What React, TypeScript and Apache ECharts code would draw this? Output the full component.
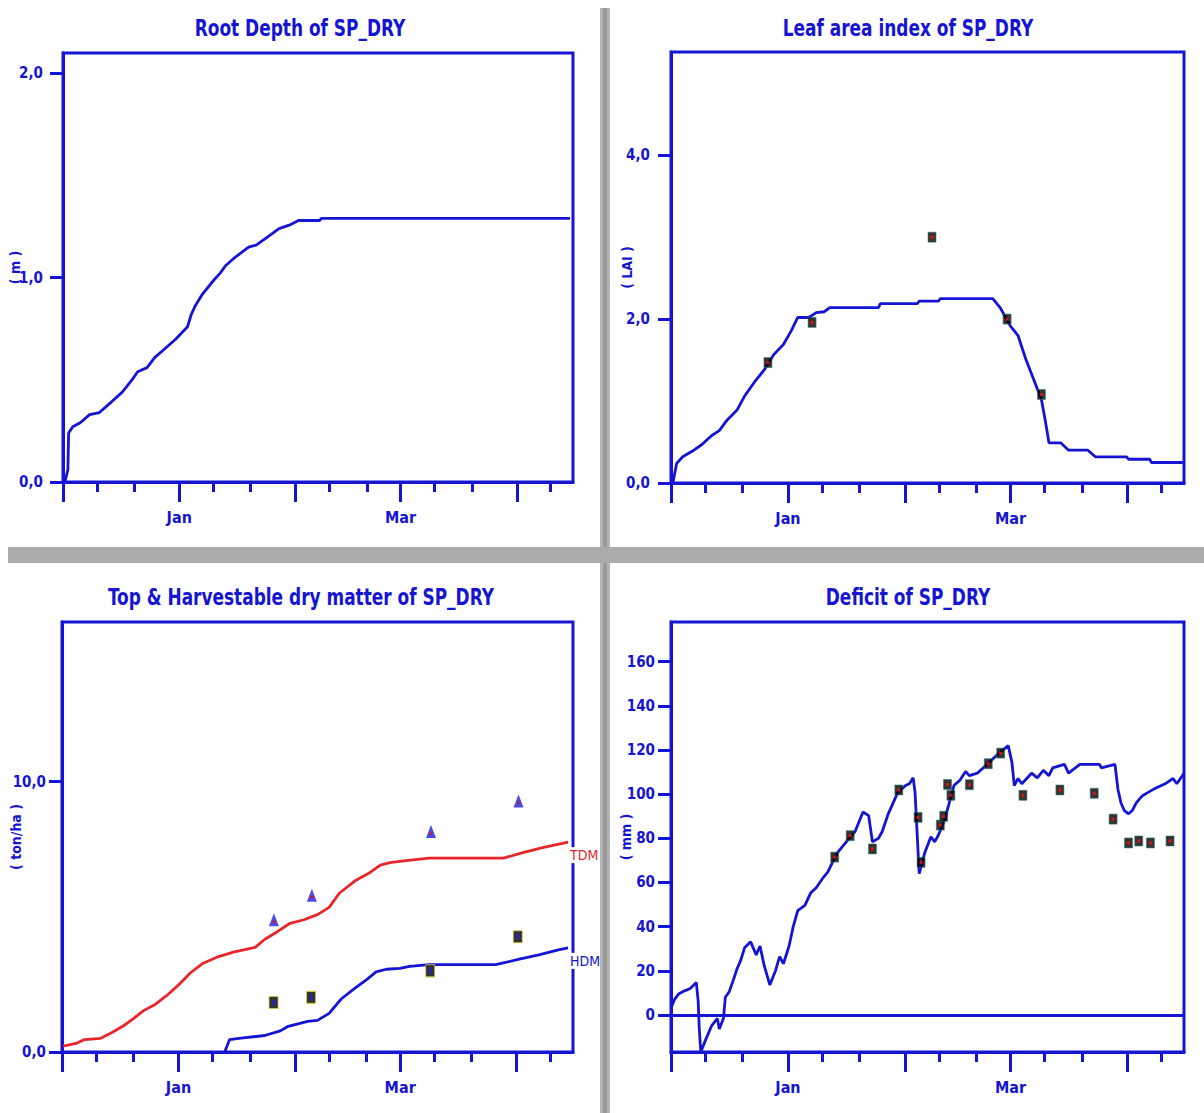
import React, { useEffect, useRef } from "react";
import * as echarts from "echarts";

// x values are days counted from 1 December
const monthTicks = [0, 31, 62, 90, 121];
const minorTicks = [9, 19, 40, 50, 71, 81, 99, 109, 130];
const monthLabelDays = [31, 90];
const monthLabelNames = ["Jan", "Mar"];

const rootDepthSim: number[][] = [
  [0.5, 0], [1.3, 0.06], [1.5, 0.24], [2.6, 0.27], [4.6, 0.29], [7.1, 0.33], [9.7, 0.34],
  [12.8, 0.39], [15.8, 0.44], [18.4, 0.5], [19.9, 0.54], [22.4, 0.56], [24.5, 0.61],
  [27, 0.65], [30.1, 0.7], [33.2, 0.76], [34.2, 0.82], [35.2, 0.86], [37.2, 0.92],
  [40.3, 0.99], [41.8, 1.02], [43.4, 1.06], [45.9, 1.1], [49.5, 1.15], [51.5, 1.16],
  [54.6, 1.2], [57.6, 1.24], [60.7, 1.26], [62.8, 1.28], [68.4, 1.28], [68.9, 1.29], [135.2, 1.29],
];

const laiSim: number[][] = [
  [0.5, 0], [1.5, 0.24], [3.1, 0.32], [5.7, 0.39], [8.2, 0.47], [10.8, 0.58], [12.8, 0.64],
  [14.9, 0.77], [17.5, 0.89], [19.5, 1.06], [22.1, 1.23], [24.7, 1.38], [27.3, 1.57],
  [29.8, 1.69], [31.9, 1.86], [33.6, 2.02], [36.5, 2.02], [38.5, 2.08], [40.6, 2.09],
  [42.1, 2.14], [55, 2.14], [55.5, 2.19], [65.3, 2.19], [65.8, 2.22], [70.9, 2.22],
  [71.4, 2.25], [85.3, 2.25], [87.4, 2.13], [89.9, 1.92], [92, 1.8], [94, 1.52],
  [96.1, 1.27], [98.2, 1.02], [99.2, 0.77], [100.2, 0.49], [103.3, 0.49], [105.4, 0.4],
  [110.5, 0.4], [112.5, 0.32], [120.8, 0.32], [121.3, 0.29], [126.9, 0.29], [127.4, 0.25], [135.7, 0.25],
];
const laiObs: number[][] = [[25.7, 1.47], [37.4, 1.96], [69.2, 3.0], [89.1, 2.0], [98.2, 1.08]];

const tdmSim: number[][] = [
  [0.3, 0.22], [4, 0.33], [6, 0.46], [10.2, 0.5], [13.3, 0.72], [16.5, 0.98], [19.1, 1.24],
  [21.7, 1.53], [24.8, 1.76], [27.9, 2.09], [31, 2.48], [34.2, 2.93], [37.3, 3.26],
  [41.5, 3.52], [45.6, 3.69], [51.4, 3.87], [54, 4.17], [57.1, 4.43], [60.7, 4.76],
  [64.4, 4.89], [68, 5.08], [71.1, 5.35], [73.8, 5.87], [77.9, 6.32], [82.1, 6.65],
  [84.7, 6.91], [87.3, 7.0], [91.5, 7.08], [97.7, 7.17], [117.5, 7.17], [122.7, 7.37],
  [127.9, 7.56], [134.7, 7.76],
];
const hdmSim: number[][] = [
  [43.3, 0], [44.6, 0.46], [48.2, 0.52], [54, 0.61], [58.1, 0.78], [60.2, 0.95], [65.4, 1.13],
  [68, 1.17], [71.1, 1.43], [74.3, 1.96], [77.9, 2.35], [81, 2.67], [83.6, 2.96],
  [86.3, 3.06], [89.9, 3.09], [92.5, 3.17], [97.7, 3.23], [115.4, 3.23], [121.7, 3.43],
  [126.9, 3.59], [132.1, 3.78], [134.7, 3.85],
];
const tdmObs: number[][] = [[56.4, 4.89], [66.5, 5.8], [98.2, 8.15], [121.5, 9.28]];
const hdmObs: number[][] = [[56.3, 1.83], [66.3, 2.02], [98, 3.0], [121.3, 4.26]];

const deficitSim: number[][] = [
  [0, 3.2], [1, 7.2], [2.1, 9.6], [3.6, 10.9], [5.1, 12], [6.7, 14.7], [7.2, 6.4], [7.5, -6.4],
  [7.9, -16.8], [9.2, -11.2], [10.8, -4.8], [12.3, -1.6], [12.8, -6.4], [13.9, -1.6],
  [14.4, 8], [15.4, 10.4], [16.4, 15.2], [17.5, 20.8], [18.5, 24.8], [19.5, 30.4],
  [21.1, 33.1], [22.6, 27.2], [23.6, 31.2], [24.7, 22.4], [26.2, 13.6], [27.7, 20],
  [28.8, 26.4], [29.8, 23.2], [31.3, 31.2], [32.4, 40], [33.6, 47.2], [35.5, 49.6],
  [37, 55.2], [38.5, 57.6], [40.1, 61.6], [41.6, 64.8], [42.7, 68.8], [44.2, 73.6],
  [46.8, 79.1], [48.8, 83.1], [50.9, 91.9], [52.4, 90.3], [53.4, 78.4], [55, 80],
  [56, 83.1], [57.6, 91.1], [60.1, 100.7], [62.2, 103.9], [63.2, 104.7], [64.2, 107.4],
  [64.7, 100.7], [65.8, 64], [67.3, 73.6], [68.9, 80.7], [69.9, 78.4], [70.9, 81.5],
  [72.5, 88], [74, 97.5], [75, 103.9], [76.6, 106.3], [78.1, 110.3], [79.1, 108.4],
  [81.2, 109.5], [83.8, 113.5], [86.8, 118.3], [89.4, 122], [90.4, 114.3], [91, 103.9],
  [92, 107.1], [93, 104.7], [95.6, 109.5], [97.1, 107.4], [98.7, 110.8], [100.2, 108.4],
  [101.2, 111.9], [104.3, 113.5], [105.4, 109.5], [108.4, 113.5], [113.6, 113.5],
  [114.1, 111.9], [117.7, 113.5], [118.5, 102], [119.3, 96], [120.2, 92.5], [121.3, 91.1],
  [122.3, 92.6], [123.3, 95.9], [124.9, 99.2], [126.5, 100.8], [128, 102.3], [131, 104.7],
  [133.1, 107.1], [134.1, 104.7], [136, 109.5],
];
const deficitObs: number[][] = [
  [43.4, 71.5], [47.5, 81.2], [53.4, 75.2], [60.4, 101.9], [65.5, 89.5], [66.3, 69.1],
  [71.4, 86], [72.3, 90], [73.3, 104.4], [74.2, 99.5], [79.1, 104.3], [84.1, 113.8],
  [87.4, 118.6], [93.3, 99.5], [103.1, 101.9], [112.2, 100.4], [117.2, 88.7],
  [121.3, 77.9], [124, 78.8], [127.1, 77.9], [132.3, 78.8],
];

const rootTicks = [0, 1, 2];
const laiTicks = [0, 2, 4];
const dmTicks = [0, 10];
const deficitTicks = [0, 20, 40, 60, 80, 100, 120, 140, 160];

const BLUE = "#1414d2";
const RED = "#e8262a";
const FONT = "'Liberation Sans Narrow', 'Arial Narrow', 'DejaVu Sans Condensed', sans-serif";

function commaFmt(v: number) {
  return v.toFixed(1).replace(".", ",");
}

export default function App() {
  const ref = useRef<HTMLDivElement>(null);
  useEffect(() => {
    document.body.style.margin = "0";
    const chart = echarts.init(ref.current!, null, { renderer: "svg" });

    const grids = [
      { left: 63, top: 53, width: 510, height: 429 },
      { left: 671, top: 52, width: 513, height: 431 },
      { left: 62, top: 622, width: 511, height: 430 },
      { left: 671, top: 622, width: 513, height: 430 },
    ];

    const xAxes: any[] = [];
    grids.forEach((_, i) => {
      xAxes.push({
        type: "value", gridIndex: i, min: 0, max: 136, position: "bottom",
        axisLine: { show: true, onZero: false, lineStyle: { color: BLUE, width: 3 } },
        axisTick: { show: true, customValues: monthTicks, length: 20, lineStyle: { color: BLUE, width: 3 } },
        axisLabel: {
          show: true, customValues: monthLabelDays, margin: 27,
          formatter: (v: number) => { const k = monthLabelDays.indexOf(v); return k >= 0 ? monthLabelNames[k] : ""; },
          color: BLUE, fontSize: 16, fontWeight: "bold", fontFamily: FONT,
        },
        splitLine: { show: false },
      });
      xAxes.push({
        type: "value", gridIndex: i, min: 0, max: 136, position: "bottom",
        axisLine: { show: false, onZero: false },
        axisTick: { show: true, customValues: minorTicks, length: 10, lineStyle: { color: BLUE, width: 3 } },
        axisLabel: { show: false },
        splitLine: { show: false },
      });
    });

    const yDefs = [
      { min: 0, max: 2.1, ticks: rootTicks, fmt: commaFmt, name: "( m )", gap: 41, margin: 20 },
      { min: 0, max: 5.26, ticks: laiTicks, fmt: commaFmt, name: "( LAI )", gap: 37, margin: 21 },
      { min: 0, max: 15.9, ticks: dmTicks, fmt: commaFmt, name: "( ton/ha )", gap: 39, margin: 16 },
      { min: -16.8, max: 178, ticks: deficitTicks, fmt: (v: number) => String(v), name: "( mm )", gap: 38, margin: 16 },
    ];
    const yAxes = yDefs.map((d, i) => ({
      type: "value", gridIndex: i, min: d.min, max: d.max,
      axisLine: { show: true, onZero: false, lineStyle: { color: BLUE, width: 3 } },
      axisTick: { show: true, customValues: d.ticks, length: 13, lineStyle: { color: BLUE, width: 3 } },
      axisLabel: {
        show: true, customValues: d.ticks, margin: d.margin, formatter: d.fmt,
        color: BLUE, fontSize: 15, fontWeight: "bold", fontFamily: FONT,
      },
      splitLine: { show: false },
      name: d.name, nameLocation: "middle", nameGap: d.gap, nameRotate: 90, nameMoveOverlap: false,
      nameTextStyle: { color: BLUE, fontSize: 14, fontWeight: "bold", fontFamily: FONT },
    }));

    const lineSeries = (data: number[][], xi: number, yi: number, color: string, extra: any = {}) => ({
      type: "line", data, xAxisIndex: xi, yAxisIndex: yi, showSymbol: false, symbol: "none",
      lineStyle: { color, width: 2.8 }, itemStyle: { color }, z: 3, ...extra,
    });
    const obsRect = (data: number[][], xi: number, yi: number) => [
      {
        type: "scatter", data, xAxisIndex: xi, yAxisIndex: yi, symbol: "rect", symbolSize: [8, 10],
        itemStyle: { color: "#000000", borderColor: "#2f7f7a", borderWidth: 0.7 }, z: 5,
      },
      {
        type: "scatter", data, xAxisIndex: xi, yAxisIndex: yi, symbol: "rect", symbolSize: [3, 3],
        itemStyle: { color: "#ff1010" }, z: 6,
      },
    ];

    const endLbl = (text: string, color: string) => ({
      show: true, formatter: () => text, distance: 2, offset: [0, 13], color,
      backgroundColor: "#ffffff", padding: [1, 0], fontSize: 14, fontFamily: FONT,
    });

    const series: any[] = [
      lineSeries(rootDepthSim, 0, 0, BLUE),
      lineSeries(laiSim, 2, 1, BLUE),
      ...obsRect(laiObs, 2, 1),
      lineSeries(tdmSim, 4, 2, RED, { endLabel: endLbl("TDM", RED) }),
      lineSeries(hdmSim, 4, 2, BLUE, { endLabel: endLbl("HDM", BLUE) }),
      {
        type: "scatter", data: tdmObs, xAxisIndex: 4, yAxisIndex: 2, symbol: "triangle", symbolSize: [10, 13],
        itemStyle: { color: "#1e1ee0" }, z: 5,
      },
      {
        type: "scatter", data: tdmObs, xAxisIndex: 4, yAxisIndex: 2, symbol: "circle", symbolSize: 3,
        symbolOffset: [0, 2], itemStyle: { color: "#e01010" }, z: 6,
      },
      {
        type: "scatter", data: hdmObs, xAxisIndex: 4, yAxisIndex: 2, symbol: "rect", symbolSize: [9, 12],
        itemStyle: { color: "#000000", borderColor: "#d8d040", borderWidth: 1 }, z: 5,
      },
      {
        type: "scatter", data: hdmObs, xAxisIndex: 4, yAxisIndex: 2, symbol: "rect", symbolSize: [3, 5],
        itemStyle: { color: "#2020e0" }, z: 6,
      },
      lineSeries(deficitSim, 6, 3, BLUE, {
        markLine: {
          silent: true, symbol: "none", label: { show: false },
          lineStyle: { color: BLUE, width: 3, type: "solid" },
          data: [{ yAxis: 0 }],
        },
      }),
      ...obsRect(deficitObs, 6, 3),
    ];

    const titleText = (text: string, x: number, y: number) => ({
      type: "text", x, y, scaleX: 0.82, scaleY: 1,
      style: { text, fill: BLUE, font: `bold 23px ${FONT}`, textAlign: "center", textVerticalAlign: "middle" },
      z: 10,
    });

    chart.setOption({
      animation: false,
      backgroundColor: "#ffffff",
      grid: grids.map((g) => ({
        ...g, show: true, borderColor: BLUE, borderWidth: 3, containLabel: false, outerBoundsMode: "none",
      })),
      xAxis: xAxes,
      yAxis: yAxes,
      series,
      graphic: [
        { type: "rect", shape: { x: 600, y: 8, width: 10, height: 1105 }, style: { fill: "#b4b4b4" }, z: 20 },
        { type: "rect", shape: { x: 603, y: 8, width: 4, height: 1105 }, style: { fill: "#9a9a9a" }, z: 20 },
        { type: "rect", shape: { x: 8, y: 547, width: 1196, height: 16 }, style: { fill: "#ababab" }, z: 20 },
        titleText("Root Depth of SP_DRY", 300, 28),
        titleText("Leaf area index of SP_DRY", 908, 28),
        titleText("Top & Harvestable dry matter of SP_DRY", 301, 597),
        titleText("Deficit of SP_DRY", 908, 597),
      ],
    });
    return () => chart.dispose();
  }, []);
  return <div ref={ref} style={{ width: 1204, height: 1113 }} />;
}
